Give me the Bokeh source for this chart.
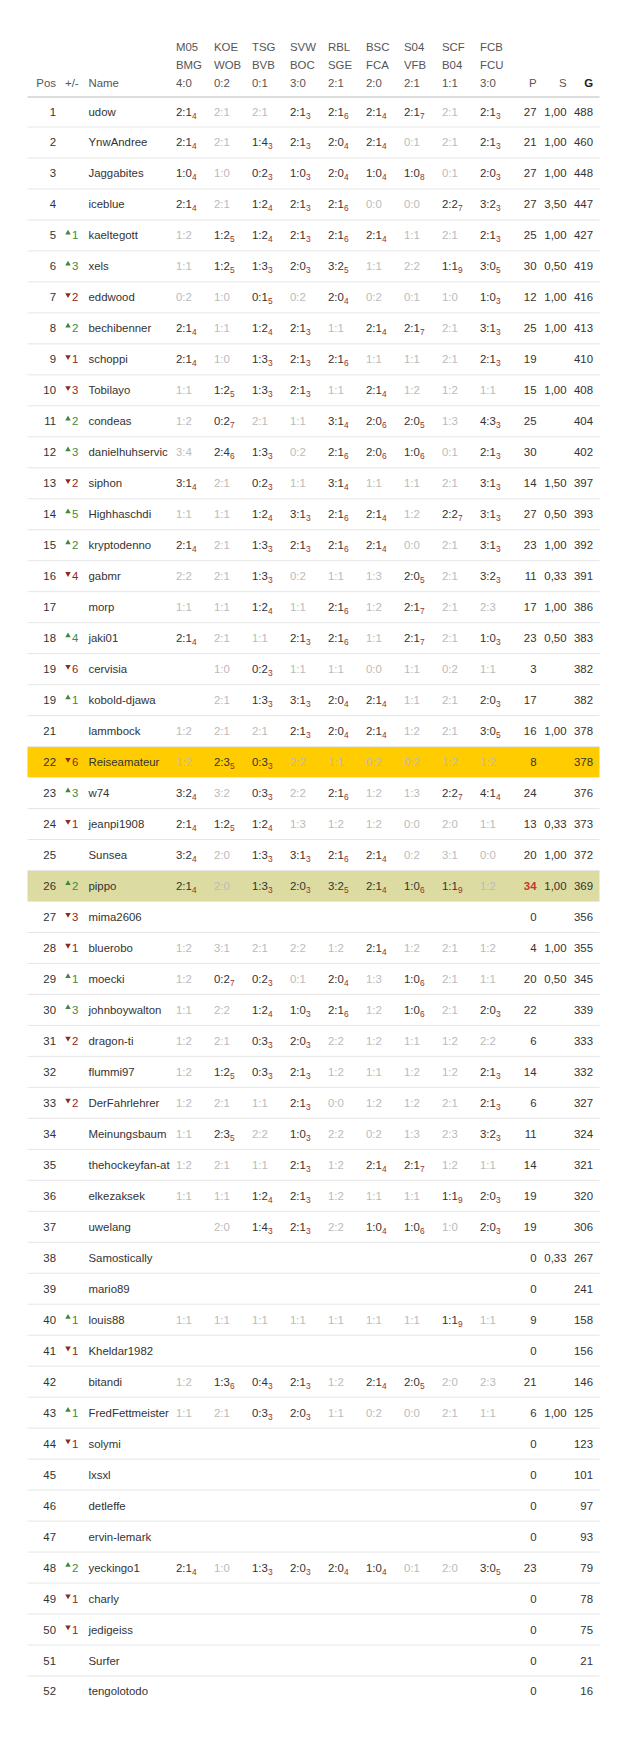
from bokeh.plotting import figure
from bokeh.models import Range1d, ColumnDataSource
from bokeh.core.properties import value
from bokeh.embed import file_html
from bokeh.resources import INLINE

# ---------------- data ----------------
match_home = ["M05", "KOE", "TSG", "SVW", "RBL", "BSC", "S04", "SCF", "FCB"]
match_away = ["BMG", "WOB", "BVB", "BOC", "SGE", "FCA", "VFB", "B04", "FCU"]
match_result = ["4:0", "0:2", "0:1", "3:0", "2:1", "2:0", "2:1", "1:1", "3:0"]

positions = [1, 2, 3, 4, 5, 6, 7, 8, 9, 10, 11, 12, 13, 14, 15, 16, 17, 18, 19, 19,
             21, 22, 23, 24, 25, 26, 27, 28, 29, 30, 31, 32, 33, 34, 35, 36, 37, 38,
             39, 40, 41, 42, 43, 44, 45, 46, 47, 48, 49, 50, 51, 52]
changes = [0, 0, 0, 0, 1, 3, -2, 2, -1, -3, 2, 3, -2, 5, 2, -4, 0, 4, -6, 1,
           0, -6, 3, -1, 0, 2, -3, -1, 1, 3, -2, 0, -2, 0, 0, 0, 0, 0,
           0, 1, -1, 0, 1, -1, 0, 0, 0, 2, -1, -1, 0, 0]
names = ["udow", "YnwAndree", "Jaggabites", "iceblue", "kaeltegott", "xels", "eddwood",
         "bechibenner", "schoppi", "Tobilayo", "condeas", "danielhuhservic", "siphon",
         "Highhaschdi", "kryptodenno", "gabmr", "morp", "jaki01", "cervisia", "kobold-djawa",
         "lammbock", "Reiseamateur", "w74", "jeanpi1908", "Sunsea", "pippo", "mima2606",
         "bluerobo", "moecki", "johnboywalton", "dragon-ti", "flummi97", "DerFahrlehrer",
         "Meinungsbaum", "thehockeyfan-at", "elkezaksek", "uwelang", "Samostically",
         "mario89", "louis88", "Kheldar1982", "bitandi", "FredFettmeister", "solymi",
         "lxsxl", "detleffe", "ervin-lemark", "yeckingo1", "charly", "jedigeiss",
         "Surfer", "tengolotodo"]
# tip "a:b_n" = tip with n bonus points, "." = no tip
tips = [
    "2:1_4 2:1 2:1 2:1_3 2:1_6 2:1_4 2:1_7 2:1 2:1_3",
    "2:1_4 2:1 1:4_3 2:1_3 2:0_4 2:1_4 0:1 2:1 2:1_3",
    "1:0_4 1:0 0:2_3 1:0_3 2:0_4 1:0_4 1:0_8 0:1 2:0_3",
    "2:1_4 2:1 1:2_4 2:1_3 2:1_6 0:0 0:0 2:2_7 3:2_3",
    "1:2 1:2_5 1:2_4 2:1_3 2:1_6 2:1_4 1:1 2:1 2:1_3",
    "1:1 1:2_5 1:3_3 2:0_3 3:2_5 1:1 2:2 1:1_9 3:0_5",
    "0:2 1:0 0:1_5 0:2 2:0_4 0:2 0:1 1:0 1:0_3",
    "2:1_4 1:1 1:2_4 2:1_3 1:1 2:1_4 2:1_7 2:1 3:1_3",
    "2:1_4 1:0 1:3_3 2:1_3 2:1_6 1:1 1:1 2:1 2:1_3",
    "1:1 1:2_5 1:3_3 2:1_3 1:1 2:1_4 1:2 1:2 1:1",
    "1:2 0:2_7 2:1 1:1 3:1_4 2:0_6 2:0_5 1:3 4:3_3",
    "3:4 2:4_6 1:3_3 0:2 2:1_6 2:0_6 1:0_6 0:1 2:1_3",
    "3:1_4 2:1 0:2_3 1:1 3:1_4 1:1 1:1 2:1 3:1_3",
    "1:1 1:1 1:2_4 3:1_3 2:1_6 2:1_4 1:2 2:2_7 3:1_3",
    "2:1_4 2:1 1:3_3 2:1_3 2:1_6 2:1_4 0:0 2:1 3:1_3",
    "2:2 2:1 1:3_3 0:2 1:1 1:3 2:0_5 2:1 3:2_3",
    "1:1 1:1 1:2_4 1:1 2:1_6 1:2 2:1_7 2:1 2:3",
    "2:1_4 2:1 1:1 2:1_3 2:1_6 1:1 2:1_7 2:1 1:0_3",
    ". 1:0 0:2_3 1:1 1:1 0:0 1:1 0:2 1:1",
    ". 2:1 1:3_3 3:1_3 2:0_4 2:1_4 1:1 2:1 2:0_3",
    "1:2 2:1 2:1 2:1_3 2:0_4 2:1_4 1:2 2:1 3:0_5",
    "1:2 2:3_5 0:3_3 2:2 1:1 0:2 0:2 1:2 1:2",
    "3:2_4 3:2 0:3_3 2:2 2:1_6 1:2 1:3 2:2_7 4:1_4",
    "2:1_4 1:2_5 1:2_4 1:3 1:2 1:2 0:0 2:0 1:1",
    "3:2_4 2:0 1:3_3 3:1_3 2:1_6 2:1_4 0:2 3:1 0:0",
    "2:1_4 2:0 1:3_3 2:0_3 3:2_5 2:1_4 1:0_6 1:1_9 1:2",
    ". . . . . . . . .",
    "1:2 3:1 2:1 2:2 1:2 2:1_4 1:2 2:1 1:2",
    "1:2 0:2_7 0:2_3 0:1 2:0_4 1:3 1:0_6 2:1 1:1",
    "1:1 2:2 1:2_4 1:0_3 2:1_6 1:2 1:0_6 2:1 2:0_3",
    "1:2 2:1 0:3_3 2:0_3 2:2 1:2 1:1 1:2 2:2",
    "1:2 1:2_5 0:3_3 2:1_3 1:2 1:1 1:2 1:2 2:1_3",
    "1:2 2:1 1:1 2:1_3 0:0 1:2 1:2 2:1 2:1_3",
    "1:1 2:3_5 2:2 1:0_3 2:2 0:2 1:3 2:3 3:2_3",
    "1:2 2:1 1:1 2:1_3 1:2 2:1_4 2:1_7 1:2 1:1",
    "1:1 1:1 1:2_4 2:1_3 1:2 1:1 1:1 1:1_9 2:0_3",
    ". 2:0 1:4_3 2:1_3 2:2 1:0_4 1:0_6 1:0 2:0_3",
    ". . . . . . . . .",
    ". . . . . . . . .",
    "1:1 1:1 1:1 1:1 1:1 1:1 1:1 1:1_9 1:1",
    ". . . . . . . . .",
    "1:2 1:3_6 0:4_3 2:1_3 1:2 2:1_4 2:0_5 2:0 2:3",
    "1:1 2:1 0:3_3 2:0_3 1:1 0:2 0:0 2:1 1:1",
    ". . . . . . . . .",
    ". . . . . . . . .",
    ". . . . . . . . .",
    ". . . . . . . . .",
    "2:1_4 1:0 1:3_3 2:0_3 2:0_4 1:0_4 0:1 2:0 3:0_5",
    ". . . . . . . . .",
    ". . . . . . . . .",
    ". . . . . . . . .",
    ". . . . . . . . .",
]
points = [27, 21, 27, 27, 25, 30, 12, 25, 19, 15, 25, 30, 14, 27, 23, 11, 17, 23, 3, 17,
          16, 8, 24, 13, 20, 34, 0, 4, 20, 22, 6, 14, 6, 11, 14, 19, 19, 0,
          0, 9, 0, 21, 6, 0, 0, 0, 0, 23, 0, 0, 0, 0]
s_values = ["1,00", "1,00", "1,00", "3,50", "1,00", "0,50", "1,00", "1,00", "", "1,00",
            "", "", "1,50", "0,50", "1,00", "0,33", "1,00", "0,50", "", "",
            "1,00", "", "", "0,33", "1,00", "1,00", "", "1,00", "0,50", "", "", "", "", "",
            "", "", "", "0,33", "", "", "", "", "1,00", "", "", "", "", "", "", "", "", ""]
totals = [488, 460, 448, 447, 427, 419, 416, 413, 410, 408, 404, 402, 397, 393, 392, 391,
          386, 383, 382, 382, 378, 378, 376, 373, 372, 369, 356, 355, 345, 339, 333, 332,
          327, 324, 321, 320, 306, 267, 241, 158, 156, 146, 125, 123, 101, 97, 93, 79, 78,
          75, 21, 16]
highlight = {"Reiseamateur": "#FFCC00", "pippo": "#DCDCA2"}

# ---------------- layout / style ----------------
FONT = value("Liberation Sans")
FS = "11.4px"
SUB_FS = "8.4px"
DARK = "#333333"
HEAD = "#555555"
FADED = "#bbbbbb"
SUBC = "#9b3525"
UP = "#3d8a3d"
DOWN = "#8e2a22"

Y0 = 111.0
PITCH = 30.98
X_LEFT, X_RIGHT = 27, 599
X_POS, X_TRI, X_CHG, X_NAME = 55.5, 67.5, 71.5, 88
X_COL0, COL_W = 175.5, 38.0
X_P, X_S, X_G = 536, 566, 592.5
TIP_W = 16.0

n = len(names)
ys = [Y0 + i * PITCH for i in range(n)]

p = figure(width=624, height=1724, x_range=Range1d(0, 624), y_range=Range1d(1724, 0),
           output_backend="svg", toolbar_location=None, min_border=0,
           x_axis_type=None, y_axis_type=None, outline_line_color=None)
p.grid.visible = False
p.background_fill_color = "white"
p.border_fill_color = "white"

# highlight bands
hb = dict(l=[], r=[], t=[], b=[], c=[])
for i, nm in enumerate(names):
    if nm in highlight:
        hb["l"].append(X_LEFT); hb["r"].append(X_RIGHT)
        hb["t"].append(ys[i] - PITCH / 2 + 0.5); hb["b"].append(ys[i] + PITCH / 2 - 0.5)
        hb["c"].append(highlight[nm])
p.quad(left="l", right="r", top="t", bottom="b", fill_color="c", line_color=None,
       source=ColumnDataSource(hb))

# separators
sep_y = [y + PITCH / 2 for y in ys[:-1]]
p.segment(x0=[X_LEFT] * len(sep_y), x1=[X_RIGHT] * len(sep_y), y0=sep_y, y1=sep_y,
          line_color="#e6e6e6", line_width=1)
p.segment(x0=[X_LEFT], x1=[X_RIGHT], y0=[96.5], y1=[96.5], line_color="#dddddd", line_width=2)

def txt(xs, yv, texts, colors, align="left", size=FS, style="normal"):
    src = ColumnDataSource(dict(x=xs, y=yv, t=texts, c=colors))
    p.text(x="x", y="y", text="t", text_color="c", source=src, text_font=FONT,
           text_font_size=size, text_align=align, text_baseline="middle",
           text_font_style=style)

# header
HY3 = 82.5
col_x = [X_COL0 + j * COL_W for j in range(len(match_home))]
txt(col_x, [46.5] * 9, match_home, [HEAD] * 9)
txt(col_x, [64.5] * 9, match_away, [HEAD] * 9)
txt(col_x, [HY3] * 9, match_result, [HEAD] * 9)
txt([X_POS], [HY3], ["Pos"], [HEAD], align="right")
txt([64.5], [HY3], ["+/-"], [HEAD])
txt([X_NAME], [HY3], ["Name"], [HEAD])
txt([X_P, X_S], [HY3, HY3], ["P", "S"], [HEAD, HEAD], align="right")
txt([X_G], [HY3], ["G"], ["#222222"], align="right", style="bold")

# body: pos, name
txt([X_POS] * n, ys, [str(v) for v in positions], [DARK] * n, align="right")
txt([X_NAME] * n, ys, names, [DARK] * n)

# changes
ux, uy, dx, dy, cx, cy, ct, cc = [], [], [], [], [], [], [], []
for i, ch in enumerate(changes):
    if ch > 0:
        ux.append(X_TRI); uy.append(ys[i] - 2.5)
    elif ch < 0:
        dx.append(X_TRI); dy.append(ys[i] - 2.5)
    if ch != 0:
        cx.append(X_CHG); cy.append(ys[i]); ct.append(str(abs(ch)))
        cc.append(UP if ch > 0 else DOWN)
p.scatter(ux, uy, marker="triangle", size=5.5, color=UP, line_color=None)
p.scatter(dx, dy, marker="inverted_triangle", size=5.5, color=DOWN, line_color=None)
txt(cx, cy, ct, cc)

# tips
tx, ty, tt, tc = [], [], [], []
sx, sy, st = [], [], []
for i, row in enumerate(tips):
    for j, cell in enumerate(row.split()):
        if cell == ".":
            continue
        if "_" in cell:
            main, sub = cell.split("_")
            tx.append(col_x[j]); ty.append(ys[i]); tt.append(main); tc.append(DARK)
            sx.append(col_x[j] + TIP_W); sy.append(ys[i] + 4); st.append(sub)
        else:
            tx.append(col_x[j]); ty.append(ys[i]); tt.append(cell); tc.append(FADED)
txt(tx, ty, tt, tc)
txt(sx, sy, st, [SUBC] * len(sx), size=SUB_FS)

# P / S / G
best = max(points)
normal_i = [i for i in range(n) if points[i] != best]
best_i = [i for i in range(n) if points[i] == best]
txt([X_P] * len(normal_i), [ys[i] for i in normal_i], [str(points[i]) for i in normal_i],
    [DARK] * len(normal_i), align="right")
txt([X_P] * len(best_i), [ys[i] for i in best_i], [str(points[i]) for i in best_i],
    ["#c0392b"] * len(best_i), align="right", style="bold")
txt([X_S] * n, ys, s_values, [DARK] * n, align="right")
txt([X_G] * n, ys, [str(v) for v in totals], [DARK] * n, align="right")

open("out.html", "w").write(file_html(p, INLINE))
